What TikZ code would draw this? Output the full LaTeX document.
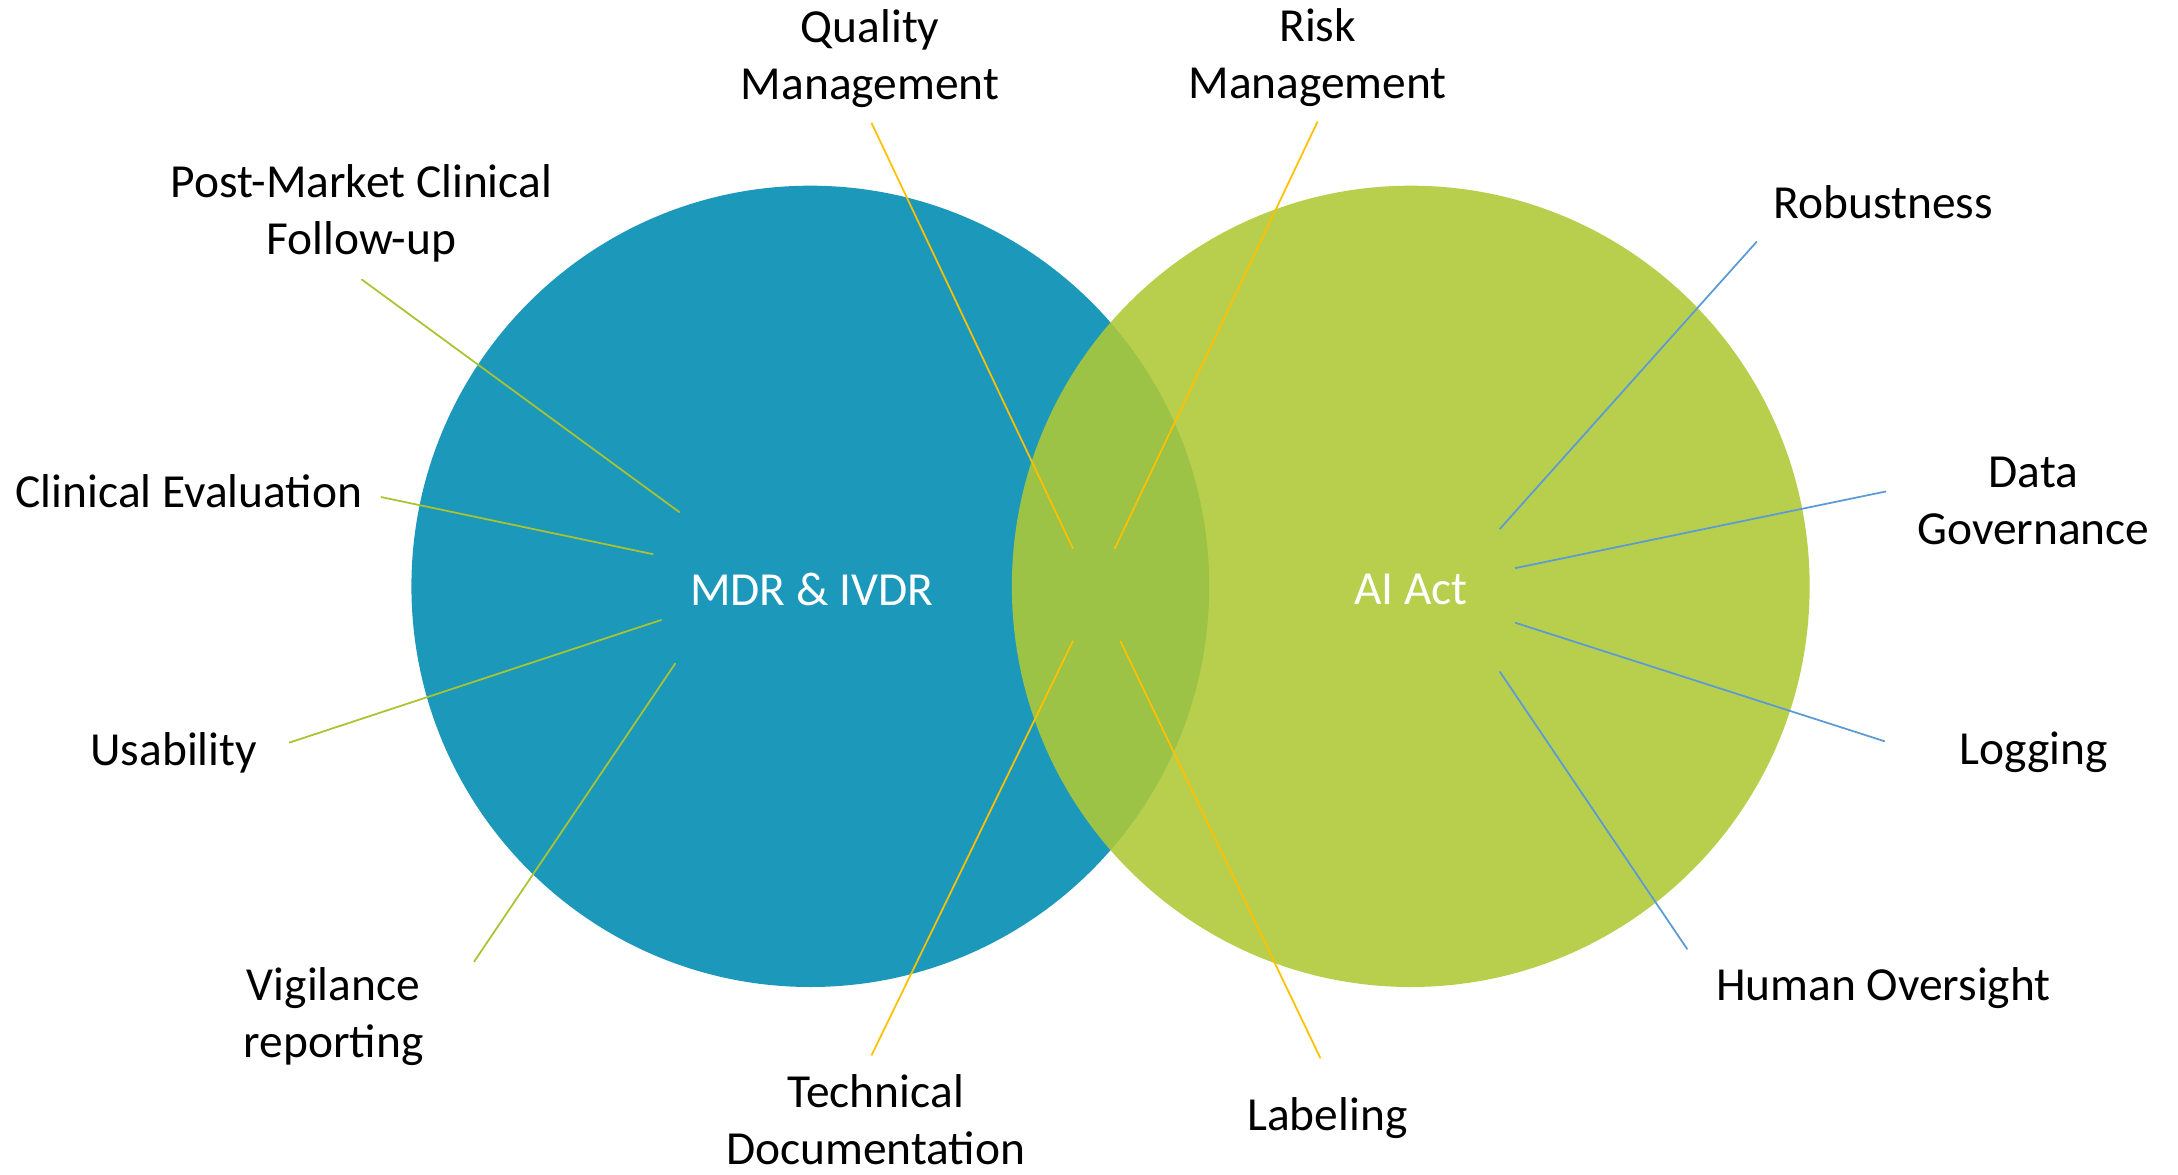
\documentclass[tikz,border=0pt]{standalone}
\usepackage{fontspec}
\setmainfont{Carlito}
\usetikzlibrary{positioning}
\definecolor{mdrblue}{RGB}{28,152,186}
\definecolor{aigreen}{RGB}{174,200,54}
\definecolor{sharedline}{RGB}{255,192,0}
\definecolor{mdrline}{RGB}{169,196,48}
\definecolor{ailine}{RGB}{91,155,213}
\tikzset{
every node/.style={ % text of all labels
font=\fontsize{13.5}{16.3}\selectfont,
align=center,
inner sep=0pt},
title/.style={text=white},
link/.style={line width=0.5pt},
shared/.style={link, draw=sharedline},
mdrlink/.style={link, draw=mdrline},
ailink/.style={link, draw=ailine}}

\begin{document}
\begin{tikzpicture}[x=0.0139cm, y=-0.01396cm]
	\useasboundingbox (0,0) rectangle (1567,841);
	% the two sets
	\fill[mdrblue] (583,420) circle[x radius=287, y radius=287];
	\fill[aigreen, fill opacity=0.88] (1015,420) circle[x radius=287, y radius=287];
	\node[title] (mdr) at (584,422) {MDR \& IVDR};
	\node[title] (ai) at (1015,422) {AI Act};
	% labels
	\node (qm) at (626,42) {Quality\\Management};
	\node (rm) at (948,41) {Risk\\Management};
	\node (td) at (630,802) {Technical\\Documentation};
	\node (lab) at (955,801) {Labeling};
	\node (pmcf) at (260,153) {Post-Market Clinical\\Follow-up};
	\node (ce) at (136,352) {Clinical Evaluation};
	\node (us) at (125,539) {Usability};
	\node (vr) at (240,728) {Vigilance\\reporting};
	\node (rob) at (1355,145) {Robustness};
	\node (dg) at (1463,359) {Data\\Governance};
	\node (log) at (1463,539) {Logging};
	\node (ho) at (1355,708) {Human Oversight};
	% end points of the connectors
	\coordinate (qm-a) at (627,88);   \coordinate (qm-b) at (772,393);
	\coordinate (rm-a) at (948,87);   \coordinate (rm-b) at (802,393);
	\coordinate (td-a) at (627,756);  \coordinate (td-b) at (772,459);
	\coordinate (lab-a) at (950,758); \coordinate (lab-b) at (806,459);
	\coordinate (pmcf-a) at (260,200); \coordinate (pmcf-b) at (489,367);
	\coordinate (ce-a) at (274,356);  \coordinate (ce-b) at (470,397);
	\coordinate (us-a) at (208,532);  \coordinate (us-b) at (476,444);
	\coordinate (vr-a) at (341,689);  \coordinate (vr-b) at (486,475);
	\coordinate (rob-a) at (1264,173); \coordinate (rob-b) at (1079,379);
	\coordinate (dg-a) at (1357,352); \coordinate (dg-b) at (1090,407);
	\coordinate (log-a) at (1356,531); \coordinate (log-b) at (1090,446);
	\coordinate (ho-a) at (1214,680); \coordinate (ho-b) at (1079,481);
	\foreach \k in {qm,rm,td,lab}
		\draw[shared] (\k-a) -- (\k-b);
	\foreach \k in {pmcf,ce,us,vr}
		\draw[mdrlink] (\k-a) -- (\k-b);
	\foreach \k in {rob,dg,log,ho}
		\draw[ailink] (\k-a) -- (\k-b);
\end{tikzpicture}
\end{document}
